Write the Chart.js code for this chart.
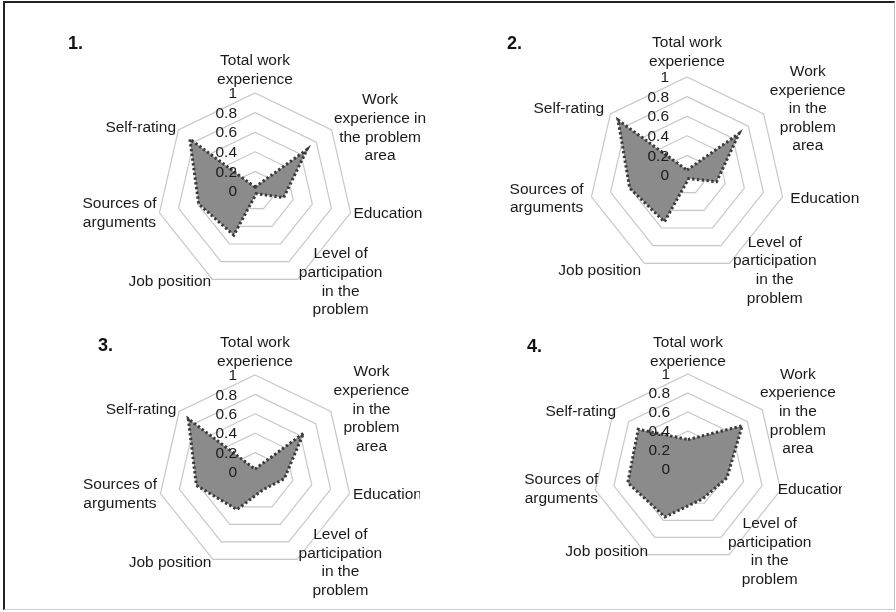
<!DOCTYPE html>
<html>
<head>
<meta charset="utf-8">
<script src="https://cdn.jsdelivr.net/npm/chart.js@4.4.1/dist/chart.umd.min.js"></script>
<style>
  html, body { margin: 0; padding: 0; background: #fff; }
  #page { position: relative; width: 896px; height: 612px; overflow: hidden; font-family: "Liberation Sans", Arial, sans-serif; }
  #frame { position: absolute; left: 3px; top: 1px; width: 892px; height: 609px; box-sizing: border-box;
           border-left: 2px solid #222; border-top: 2px solid #222; border-right: 1px solid #bbb; border-bottom: 1px solid #ccc; }
  canvas { position: absolute; }
  .num { position: absolute; font-weight: bold; font-size: 18px; line-height: 18px; color: #111; }
</style>
</head>
<body>
<div id="page">
  <div id="frame"></div>
  <canvas id="c1"></canvas>
  <canvas id="c2"></canvas>
  <canvas id="c3"></canvas>
  <canvas id="c4"></canvas>
  <div class="num" style="left:68px;top:34px">1.</div>
  <div class="num" style="left:507px;top:34px">2.</div>
  <div class="num" style="left:98px;top:336px">3.</div>
  <div class="num" style="left:527px;top:337px">4.</div>
</div>
<script>
// axes of every radar, clockwise from the top
const categories = [
    'Total work experience',
    'Work experience in the problem area',
    'Education',
    'Level of participation in the problem',
    'Job position',
    'Sources of arguments',
    'Self-rating'
];

// how the labels wrap in the picture
const labelLines = [
    ['Total work', 'experience'],
    ['Work', 'experience', 'in the', 'problem', 'area'],
    ['Education'],
    ['Level of', 'participation', 'in the', 'problem'],
    ['Job position'],
    ['Sources of', 'arguments'],
    ['Self-rating']
];
const labelLinesFirst = [
    ['Total work', 'experience'],
    ['Work', 'experience in', 'the problem', 'area'],
    ['Education'],
    ['Level of', 'participation', 'in the', 'problem'],
    ['Job position'],
    ['Sources of', 'arguments'],
    ['Self-rating']
];

const tickValues = [0, 0.2, 0.4, 0.6, 0.8, 1];
const tickLabels = ['0', '0.2', '0.4', '0.6', '0.8', '1'];

const values1 = [0.04, 0.68, 0.30, 0.03, 0.50, 0.59, 0.85];
const values2 = [0.05, 0.68, 0.31, 0.04, 0.53, 0.60, 0.90];
const values3 = [0.03, 0.64, 0.31, 0.20, 0.43, 0.62, 0.88];
const values4 = [0.31, 0.73, 0.42, 0.35, 0.56, 0.65, 0.67];

const FONT = '15.5px "Liberation Sans", Arial, sans-serif';
const LINE_H = 18.6;

// tick numbers (incl. the 0 that chart.js skips) and the wrapped axis labels
function makeTextPlugin(lines, pad, topPad) {
    return {
        id: 'radarText',
        afterDatasetsDraw(chart) {
            const scale = chart.scales.r;
            const ctx = chart.ctx;
            ctx.save();
            ctx.font = FONT;
            ctx.fillStyle = '#1a1a1a';
            ctx.textAlign = 'right';
            ctx.textBaseline = 'middle';
            tickValues.forEach((v, i) => {
                const d = scale.getDistanceFromCenterForValue(v);
                ctx.fillText(tickLabels[i], scale.xCenter - 18, scale.yCenter - d + 1);
            });
            ctx.restore();
        },
        afterDraw(chart) {
            const scale = chart.scales.r;
            const ctx = chart.ctx;
            ctx.save();
            ctx.font = FONT;
            ctx.fillStyle = '#1a1a1a';
            ctx.textAlign = 'center';
            ctx.textBaseline = 'middle';
            lines.forEach((label, i) => {
                const p = scale.getPointPosition(i, scale.drawingArea + (i === 0 ? topPad : pad));
                const dx = Math.cos(p.angle), dy = Math.sin(p.angle);
                const w = Math.max(...label.map(t => ctx.measureText(t).width));
                const h = label.length * LINE_H;
                let x = p.x;
                if (dx > 0.05) x = p.x + w / 2;
                else if (dx < -0.05) x = p.x - w / 2;
                let top = p.y - h / 2;
                if (dy < -0.95) top = p.y - h;
                else if (dy > 0.95) top = p.y;
                label.forEach((t, k) => ctx.fillText(t, x, top + LINE_H * (k + 0.5)));
            });
            ctx.restore();
        }
    };
}

function drawRadar(id, box, values, lines) {
    const canvas = document.getElementById(id);
    canvas.width = box.w;
    canvas.height = box.h;
    canvas.style.left = box.left + 'px';
    canvas.style.top = box.top + 'px';
    const cx = box.cx - box.left;
    const cy = box.cy - box.top;
    const r = box.r;

    return new Chart(canvas, {
        type: 'radar',
        data: {
            labels: categories,
            datasets: [{
                data: values,
                fill: true,
                backgroundColor: '#8b8b8b',
                borderColor: '#3a3a3a',
                borderWidth: 3,
                borderDash: [2.4, 2.4],
                pointRadius: 0
            }]
        },
        options: {
            responsive: false,
            animation: false,
            layout: {
                padding: { left: cx - r, top: cy - r, right: box.w - cx - r, bottom: box.h - cy - r }
            },
            plugins: {
                legend: { display: false },
                tooltip: { enabled: false }
            },
            scales: {
                r: {
                    min: 0,
                    max: 1,
                    z: 1,
                    ticks: { display: false, stepSize: 0.2 },
                    pointLabels: { display: false },
                    angleLines: { display: false },
                    grid: { color: 'rgba(176,176,176,0.7)', lineWidth: 1.2 }
                }
            }
        },
        plugins: [makeTextPlugin(lines, box.pad, box.topPad)]
    });
}

drawRadar('c1', { left: 40, top: 20, w: 400, h: 310, cx: 255, cy: 191, r: 98, pad: 3, topPad: 4 }, values1, labelLinesFirst);
drawRadar('c2', { left: 470, top: 10, w: 420, h: 320, cx: 687, cy: 175, r: 98, pad: 8, topPad: 6 }, values2, labelLines);
drawRadar('c3', { left: 40, top: 322, w: 380, h: 285, cx: 255, cy: 472, r: 97, pad: 3.5, topPad: 4 }, values3, labelLines);
drawRadar('c4', { left: 470, top: 322, w: 372, h: 285, cx: 688, cy: 469, r: 95, pad: -3, topPad: 3 }, values4, labelLines);
</script>
</body>
</html>
